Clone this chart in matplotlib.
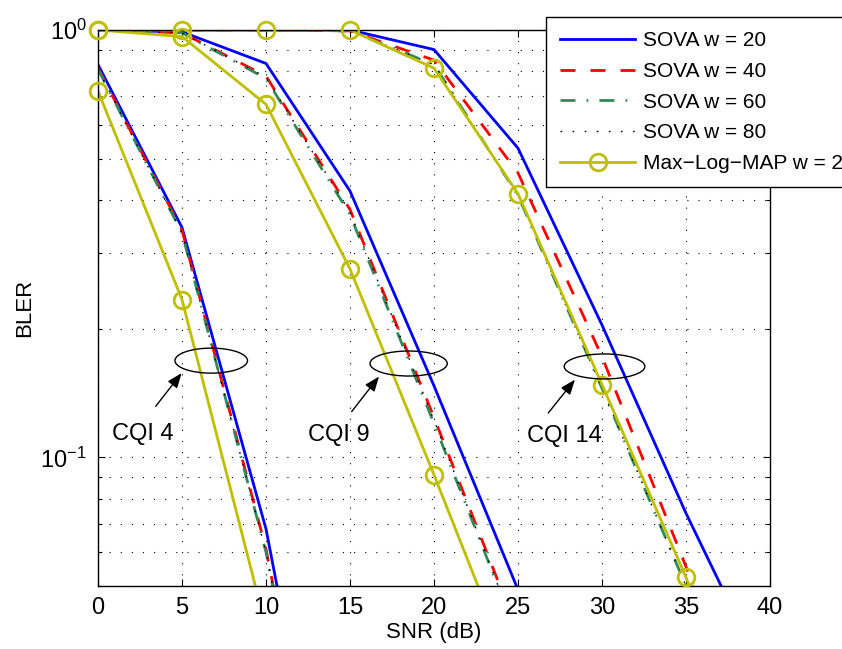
import numpy as np
import matplotlib
matplotlib.use("Agg")
import matplotlib.pyplot as plt
from matplotlib.patches import Ellipse
from matplotlib.ticker import NullFormatter, FixedLocator

plt.rcParams['font.family'] = ['Liberation Sans', 'DejaVu Sans']
plt.rcParams['mathtext.fontset'] = 'custom'
plt.rcParams['mathtext.rm'] = 'Liberation Sans'
plt.rcParams['mathtext.it'] = 'Liberation Sans'

# SNR points (dB)
snr = [0, 5, 10, 15, 20, 25, 30, 35, 40]

# BLER, CQI 4 / CQI 9 / CQI 14
sova20_cqi4 = [0.83, 0.345, 0.068, 0.0065]
sova40_cqi4 = [0.815, 0.34, 0.061, 0.006]
sova60_cqi4 = [0.81, 0.335, 0.060, 0.006]
sova80_cqi4 = [0.81, 0.335, 0.060, 0.006]
mlm_cqi4 = [0.72, 0.234, 0.040, 0.004]

sova20_cqi9 = [1.0, 0.99, 0.835, 0.42, 0.147, 0.049, 0.012]
sova40_cqi9 = [1.0, 0.985, 0.78, 0.38, 0.124, 0.039, 0.010]
sova60_cqi9 = [1.0, 0.985, 0.77, 0.37, 0.120, 0.038, 0.010]
sova80_cqi9 = [1.0, 0.985, 0.775, 0.375, 0.122, 0.038, 0.010]
mlm_cqi9 = [1.0, 0.965, 0.67, 0.276, 0.091, 0.029, 0.008]

sova20_cqi14 = [1.0, 1.0, 1.0, 1.0, 0.90, 0.529, 0.204, 0.074, 0.029]
sova40_cqi14 = [1.0, 1.0, 1.0, 0.995, 0.85, 0.463, 0.172, 0.0555, 0.015]
sova60_cqi14 = [1.0, 1.0, 1.0, 0.995, 0.83, 0.41, 0.145, 0.050, 0.013]
sova80_cqi14 = [1.0, 1.0, 1.0, 0.995, 0.83, 0.41, 0.145, 0.050, 0.013]
mlm_cqi14 = [1.0, 1.0, 1.0, 1.0, 0.814, 0.414, 0.148, 0.0524, 0.016]

labels = ['SOVA w = 20', 'SOVA w = 40', 'SOVA w = 60', 'SOVA w = 80',
          'Max\u2212Log\u2212MAP w = 20']
cqi_labels = ['CQI 4', 'CQI 9', 'CQI 14']

YMIN, YMAX = 0.05, 1.0

fig = plt.figure(figsize=(8.42, 6.49), dpi=100)
ax = fig.add_axes([98 / 842, 63 / 649, 672 / 842, 556 / 649])

styles = [
    dict(color='#0000FF', lw=2.0, ls='-'),
    dict(color='#FF0000', lw=2.0, dashes=(5.4, 5.4)),
    dict(color='#2E8B57', lw=2.0, dashes=(5.4, 4.0, 0.6, 4.0)),
    dict(color='k', lw=1.0, dashes=(1.2, 7.5)),
]
sova_sets = [
    [sova20_cqi4, sova20_cqi9, sova20_cqi14],
    [sova40_cqi4, sova40_cqi9, sova40_cqi14],
    [sova60_cqi4, sova60_cqi9, sova60_cqi14],
    [sova80_cqi4, sova80_cqi9, sova80_cqi14],
]

handles = []
for st, curves in zip(styles, sova_sets):
    for k, c in enumerate(curves):
        h, = ax.plot(snr[:len(c)], c, **st)
        if k == 0:
            handles.append(h)

yel = '#BFBF00'
for k, c in enumerate([mlm_cqi4, mlm_cqi9, mlm_cqi14]):
    x = np.array(snr[:len(c)])
    y = np.array(c)
    ax.plot(x, y, color=yel, lw=2.0)
    m = (y >= YMIN * 0.98) & (y <= YMAX)
    ax.plot(x[m], y[m], ls='none', marker='o', ms=12, mew=2.0,
            mfc='none', mec=yel, clip_on=False, zorder=5)
    if k == 0:
        hm, = ax.plot([], [], color=yel, lw=2.0, marker='o', ms=12, mew=2.0,
                      mfc='none', mec=yel)
        handles.append(hm)

ax.set_yscale('log')
ax.set_xlim(0, 40)
ax.set_ylim(YMIN, YMAX)
ax.set_xticks(np.arange(0, 41, 5))
ax.yaxis.set_minor_locator(FixedLocator([0.05, 0.06, 0.07, 0.08, 0.09, 0.2, 0.3,
                                         0.4, 0.5, 0.6, 0.7, 0.8, 0.9]))
ax.yaxis.set_minor_formatter(NullFormatter())
ax.tick_params(which='both', direction='in', top=True, right=True,
               labelsize=17, width=0.8)
ax.tick_params(which='major', length=5, pad=8)
ax.tick_params(which='minor', length=3)
for s in ax.spines.values():
    s.set_linewidth(1.0)

ax.grid(True, which='major', color='k', lw=0.8, ls=(0, (1, 9)))
ax.grid(True, which='minor', axis='y', color='k', lw=0.8, ls=(0, (1, 9)))

ax.set_xlabel('SNR (dB)', fontsize=16, labelpad=2)
ax.set_ylabel('BLER', fontsize=16, labelpad=4)

# ellipse groups, arrows, labels
ell_centers = [(6.74, 0.1684), (18.49, 0.1658), (30.15, 0.1632)]
ell_widths = [0.108, 0.115, 0.12]
arrow_tails = [(3.43, 0.1316), (15.10, 0.128), (26.80, 0.127)]
arrow_heads = [(4.98, 0.1575), (16.73, 0.1546), (28.39, 0.152)]
text_pos = [(2.68, 0.1136), (14.35, 0.113), (27.74, 0.112)]

lo, hi = np.log10(YMIN), np.log10(YMAX)
for (cx, cy), w, t, hd, tp, lab in zip(ell_centers, ell_widths, arrow_tails,
                                       arrow_heads, text_pos, cqi_labels):
    fx = cx / 40.0
    fy = (np.log10(cy) - lo) / (hi - lo)
    ax.add_patch(Ellipse((fx, fy), w, 0.045, transform=ax.transAxes,
                         fill=False, ec='k', lw=1.0, zorder=6))
    ax.annotate('', xy=hd, xytext=t,
                arrowprops=dict(arrowstyle='-|>,head_length=0.9,head_width=0.35',
                                color='k', lw=1.0, shrinkA=0, shrinkB=0))
    ax.text(tp[0], tp[1], lab, fontsize=17, ha='center', va='center')

leg = fig.legend(handles, labels, loc='upper left',
                 bbox_to_anchor=(546 / 842, 1 - 17 / 649),
                 fontsize=15, frameon=True, fancybox=False, framealpha=1,
                 edgecolor='k', borderpad=0.68, labelspacing=0.56,
                 handlelength=3.6, handletextpad=0.38, numpoints=1,
                 borderaxespad=0)
leg.get_frame().set_linewidth(1.0)

fig.savefig('out.png', dpi=100)
